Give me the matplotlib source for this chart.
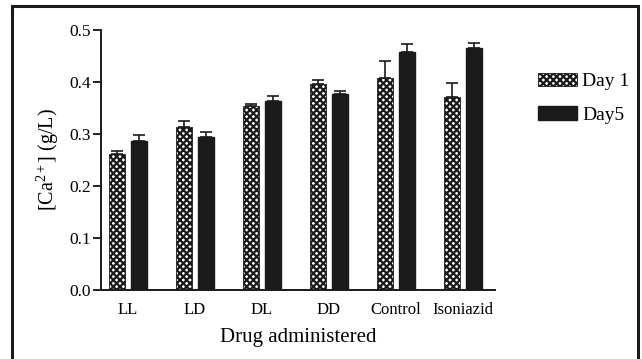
import matplotlib
matplotlib.use("Agg")
import matplotlib.pyplot as plt
import numpy as np
from matplotlib.patches import Rectangle, Patch

plt.rcParams['font.family'] = ['Liberation Serif', 'DejaVu Serif']
plt.rcParams['mathtext.fontset'] = 'custom'
plt.rcParams['mathtext.rm'] = 'Liberation Serif'
plt.rcParams['mathtext.it'] = 'Liberation Serif:italic'
plt.rcParams['mathtext.bf'] = 'Liberation Serif:bold'
plt.rcParams['hatch.linewidth'] = 1.6

categories = ["LL", "LD", "DL", "DD", "Control", "Isoniazid"]
day1 = [0.262, 0.314, 0.354, 0.397, 0.408, 0.371]
day1_err = [0.005, 0.011, 0.003, 0.007, 0.032, 0.027]
day5 = [0.286, 0.295, 0.363, 0.376, 0.457, 0.465]
day5_err = [0.012, 0.009, 0.010, 0.007, 0.016, 0.010]
series_names = ["Day 1", "Day5"]

fig = plt.figure(figsize=(6.42, 3.59), dpi=100)
# outer frame around the whole figure
fig.patches.append(Rectangle((12 / 642, -0.05), 626 / 642, 1.05 - 6 / 359,
                             transform=fig.transFigure, fill=False,
                             edgecolor='#1a1a1a', linewidth=2.2))

ax = fig.add_axes([101 / 642, 1 - 290 / 359, 394 / 642, 260 / 359])

x = np.arange(len(categories))
w = 0.24
off = 0.165
ax.bar(x - off, day1, w, facecolor='white', edgecolor='#1a1a1a',
       hatch='xxxxx', linewidth=0.6, zorder=2)
ax.bar(x + off, day5, w, color='#1a1a1a', edgecolor='#1a1a1a', zorder=2)
ax.errorbar(x - off, day1, yerr=[np.zeros(len(day1)), day1_err], fmt='none',
            ecolor='#1a1a1a', elinewidth=1.2, capsize=4, capthick=1.2, zorder=3)
ax.errorbar(x + off, day5, yerr=[np.zeros(len(day5)), day5_err], fmt='none',
            ecolor='#1a1a1a', elinewidth=1.2, capsize=4, capthick=1.2, zorder=3)

ax.set_xlim(-0.40, 5.48)
ax.set_ylim(0, 0.5)
ax.set_yticks(np.arange(0, 0.51, 0.1))
ax.set_yticklabels([f"{v:.1f}" for v in np.arange(0, 0.51, 0.1)])
ax.set_xticks(x)
ax.set_xticklabels(categories)
ax.tick_params(axis='x', length=0, pad=9, labelsize=12)
ax.tick_params(axis='y', direction='out', length=6, width=1.2, pad=1,
               labelsize=12.5)
for s in ['top', 'right']:
    ax.spines[s].set_visible(False)
for s in ['left', 'bottom']:
    ax.spines[s].set_linewidth(1.4)
    ax.spines[s].set_color('#1a1a1a')

ax.set_xlabel("Drug administered", fontsize=15, labelpad=7)
ax.set_ylabel(r"[Ca$^{2+}$] (g/L)", fontsize=14.5, labelpad=6)

handles = [Patch(facecolor='white', edgecolor='#1a1a1a', hatch='xxxxx', linewidth=0.6),
           Patch(facecolor='#1a1a1a', edgecolor='#1a1a1a')]
fig.legend(handles, series_names, loc='upper left',
           bbox_to_anchor=(520 / 642, 1 - 55 / 359), frameon=False,
           fontsize=14, handlelength=2.05, handleheight=0.72,
           handletextpad=0.25, labelspacing=0.8)

fig.savefig("out.png", dpi=100)
